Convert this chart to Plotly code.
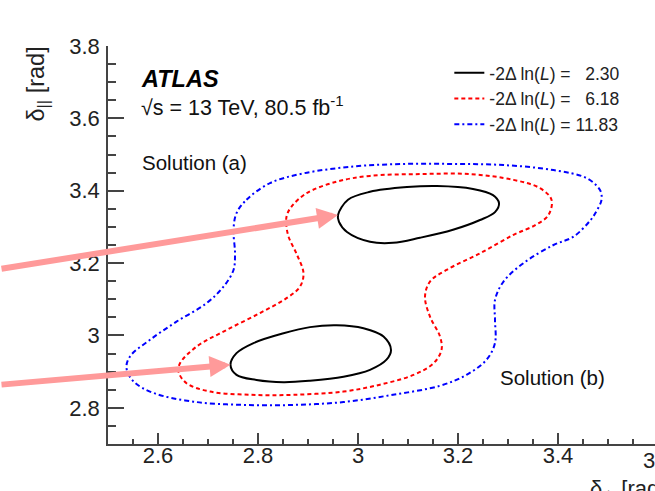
import plotly.graph_objects as go

# ---- data (delta_perp [rad], delta_par [rad]) ----
levels = ["2.30", "6.18", "11.83"]

upper_black_x = [2.960, 2.980, 3.024, 3.098, 3.158, 3.230, 3.270, 3.282, 3.274, 3.244,
                 3.190, 3.124, 3.070, 3.024, 2.978, 2.962]
upper_black_y = [3.333, 3.375, 3.397, 3.410, 3.413, 3.405, 3.388, 3.366, 3.341, 3.319,
                 3.292, 3.270, 3.256, 3.259, 3.286, 3.314]

lower_black_x = [2.745, 2.757, 2.791, 2.851, 2.904, 2.957, 3.011, 3.051, 3.066, 3.057,
                 3.024, 2.971, 2.904, 2.851, 2.797, 2.757]
lower_black_y = [2.919, 2.951, 2.979, 3.006, 3.023, 3.028, 3.020, 2.997, 2.960, 2.933,
                 2.905, 2.886, 2.875, 2.871, 2.877, 2.891]

red_x = [2.867, 2.897, 2.957, 3.024, 3.124, 3.224, 3.311, 3.364, 3.387, 3.381,
         3.356, 3.311, 3.244, 3.177, 3.144, 3.134, 3.144, 3.164, 3.167, 3.151,
         3.111, 3.044, 2.971, 2.871, 2.784, 2.704, 2.657, 2.641, 2.644, 2.677,
         2.737, 2.804, 2.857, 2.884, 2.891, 2.878, 2.860, 2.857]
red_y = [3.356, 3.393, 3.425, 3.441, 3.446, 3.446, 3.430, 3.407, 3.375, 3.333,
         3.306, 3.278, 3.227, 3.181, 3.149, 3.107, 3.052, 2.997, 2.960, 2.923,
         2.891, 2.864, 2.845, 2.836, 2.836, 2.845, 2.868, 2.900, 2.923, 2.969,
         3.015, 3.062, 3.103, 3.135, 3.172, 3.223, 3.278, 3.328]

blue_x = [2.757, 2.777, 2.824, 2.891, 2.991, 3.091, 3.191, 3.291, 3.391, 3.457,
          3.484, 3.487, 3.476, 3.464, 3.431, 3.391, 3.331, 3.291, 3.274, 3.274,
          3.274, 3.257, 3.217, 3.164, 3.070, 2.971, 2.871, 2.771, 2.671, 2.591,
          2.551, 2.537, 2.544, 2.584, 2.637, 2.697, 2.731, 2.751, 2.754, 2.751]
blue_y = [3.338, 3.375, 3.421, 3.448, 3.467, 3.474, 3.474, 3.471, 3.457, 3.435,
          3.402, 3.375, 3.341, 3.317, 3.273, 3.250, 3.200, 3.149, 3.098, 3.043,
          2.979, 2.933, 2.891, 2.861, 2.836, 2.816, 2.808, 2.808, 2.817, 2.841,
          2.873, 2.910, 2.942, 2.988, 3.038, 3.089, 3.135, 3.181, 3.227, 3.292]


def closed(v):
    return list(v) + [v[0]]


def label(v):
    return "-2\u0394 ln(<i>L</i>) = " + v.rjust(5, "\u2007")


FONT = "Liberation Sans, Arial, Helvetica, sans-serif"
AX = "#444444"

fig = go.Figure()
fig.add_trace(go.Scatter(
    x=closed(upper_black_x), y=closed(upper_black_y), mode="lines",
    line=dict(color="black", width=2, shape="spline", smoothing=1),
    name=label(levels[0]), legendgroup="c1", hoverinfo="skip"))
fig.add_trace(go.Scatter(
    x=closed(lower_black_x), y=closed(lower_black_y), mode="lines",
    line=dict(color="black", width=2, shape="spline", smoothing=1),
    name=label(levels[0]), legendgroup="c1", showlegend=False, hoverinfo="skip"))
fig.add_trace(go.Scatter(
    x=closed(red_x), y=closed(red_y), mode="lines",
    line=dict(color="#ff0000", width=2, shape="spline", smoothing=1, dash="4px,3px"),
    name=label(levels[1]), hoverinfo="skip"))
fig.add_trace(go.Scatter(
    x=closed(blue_x), y=closed(blue_y), mode="lines",
    line=dict(color="#0000ff", width=2, shape="spline", smoothing=1,
              dash="5px,3px,2px,3px"),
    name=label(levels[2]), hoverinfo="skip"))

ann = []
ann.append(dict(text="<b><i>ATLAS</i></b>", xref="paper", yref="paper",
                x=0.056, y=0.918, xanchor="left", yanchor="middle", showarrow=False,
                font=dict(family=FONT, size=23.5, color="black")))
ann.append(dict(text="\u221as = 13 TeV, 80.5 fb<sup>-1</sup>", xref="paper", yref="paper",
                x=0.056, y=0.850, xanchor="left", yanchor="middle", showarrow=False,
                font=dict(family=FONT, size=21.5, color="#111")))
ann.append(dict(text="Solution (a)", xref="paper", yref="paper",
                x=0.058, y=0.708, xanchor="left", yanchor="middle", showarrow=False,
                font=dict(family=FONT, size=20.5, color="#111")))
ann.append(dict(text="Solution (b)", xref="paper", yref="paper",
                x=0.713, y=0.166, xanchor="left", yanchor="middle", showarrow=False,
                font=dict(family=FONT, size=20.5, color="#111")))
# partially visible tick label and axis titles (the picture is cropped on the right)
ann.append(dict(text="3.6", xref="paper", yref="paper",
                x=1.0055, y=-0.004, xanchor="center", yanchor="top", showarrow=False,
                font=dict(family=FONT, size=22, color="#222")))
ann.append(dict(text="\u03b4<sub>\u22a5</sub> [rad]", xref="paper", yref="paper",
                x=0.877, y=-0.075, xanchor="left", yanchor="top", showarrow=False,
                font=dict(family=FONT, size=22, color="#222")))
ann.append(dict(text="\u03b4<sub>||</sub> [rad]", xref="paper", yref="paper",
                x=-0.128, y=1.005, xanchor="center", yanchor="top", showarrow=False,
                textangle=-90, font=dict(family=FONT, size=23.5, color="#222")))

# arrows pointing at the two solutions (left tips of the 2.30 contours)
iu = upper_black_x.index(min(upper_black_x))
il = lower_black_x.index(min(lower_black_x))
for (xt, yt, ax, ay) in [(upper_black_x[iu], upper_black_y[iu], -338, 54),
                         (lower_black_x[il], lower_black_y[il], -231, 20)]:
    ann.append(dict(x=xt, y=yt, xref="x", yref="y", ax=ax, ay=ay, text="",
                    showarrow=True, arrowhead=2, arrowsize=0.7, arrowwidth=6,
                    arrowcolor="#ff9a9a", standoff=0))

fig.update_layout(
    width=655, height=491, autosize=False,
    margin=dict(l=108, r=0, t=46, b=47, pad=0),
    paper_bgcolor="white", plot_bgcolor="white",
    font=dict(family=FONT, color="#222"),
    showlegend=True,
    legend=dict(x=0.624, y=0.9775, xanchor="left", yanchor="top",
                bgcolor="rgba(0,0,0,0)", borderwidth=0, itemwidth=30,
                font=dict(family=FONT, size=17.5, color="#222"),
                tracegroupgap=0),
    annotations=ann,
)
fig.update_xaxes(
    range=[2.5, 3.594], showline=True, linecolor=AX, linewidth=1.5, mirror=False,
    showgrid=False, zeroline=False, ticks="inside", ticklen=11, tickwidth=1.5,
    tickcolor=AX, tick0=2.6, dtick=0.2, ticklabelstandoff=-9,
    tickfont=dict(family=FONT, size=22, color="#222"),
    minor=dict(ticks="inside", ticklen=5, tickwidth=1.5, tickcolor=AX, dtick=0.05,
               tick0=2.5, showgrid=False))
fig.update_yaxes(
    range=[2.7, 3.8], showline=True, linecolor=AX, linewidth=1.5, mirror=False,
    showgrid=False, zeroline=False, ticks="inside", ticklen=16, tickwidth=1.5,
    tickcolor=AX, tick0=2.8, dtick=0.2, ticklabelstandoff=2,
    tickfont=dict(family=FONT, size=22, color="#222"),
    minor=dict(ticks="inside", ticklen=8, tickwidth=1.5, tickcolor=AX, dtick=0.05,
               tick0=2.7, showgrid=False))

fig.write_html("out.html", config={"displayModeBar": False})
